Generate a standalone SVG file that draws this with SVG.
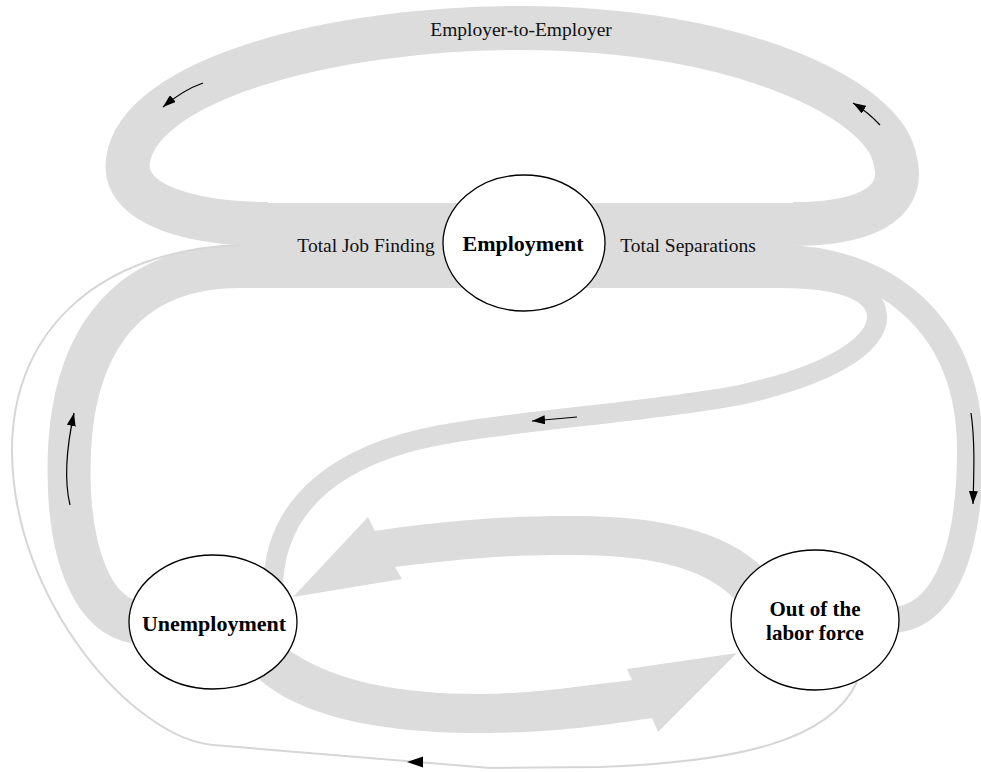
<svg xmlns="http://www.w3.org/2000/svg" width="981" height="772" viewBox="0 0 981 772">
<style>
.band{fill:none;stroke:#dcdcdc;stroke-linecap:butt}
.bandf{fill:#dcdcdc;stroke:none}
.thin{fill:none;stroke:#d6d6d6;stroke-width:2}
.arr{fill:none;stroke:#000;stroke-width:1.2}
.node{fill:#fff;stroke:#000;stroke-width:1.3}
.lbl{font-family:"Liberation Serif","Times New Roman",serif;font-size:19.5px;fill:#111}
.nlbl{font-family:"Liberation Serif","Times New Roman",serif;font-size:22px;font-weight:bold;fill:#000}
.nlbl2{font-family:"Liberation Serif","Times New Roman",serif;font-size:21px;font-weight:bold;fill:#000}
</style>
<defs>
<marker id="ah" viewBox="0 0 13 9" refX="13" refY="4.5" markerWidth="13" markerHeight="9" markerUnits="userSpaceOnUse" orient="auto">
<path d="M0,0 L13,4.5 L0,9 z" fill="#000"/>
</marker>
</defs>
<g id="connectors">
<rect class="bandf" x="268" y="203" width="525" height="85"/>
<path class="band" stroke-width="44" d="M 793,224 C 880,224 905,195 895,160 C 885,100 740,28 520,28 C 330,28 140,80 128,160 C 121,208 200,224 268,224"/>
<path class="band" stroke-width="43" d="M 268,266.5 L 240,266.5 C 120,266.5 69,350 69,470 C 69,560 95,615 135,622"/>
<path class="band" stroke-width="26" d="M 780,258 C 880,258 970,320 970,450 C 970,560 940,620 890,620"/>
<path class="band" stroke-width="20" d="M 780,278 C 850,278 877,295 877,317 C 877,345 830,375 740,395 C 650,412 520,420 440,435 C 344,453 273,500 273,590"/>
<path class="bandf" d="M 293,597 L 368,517 L 375,531 C 430,523 500,515 580,516 C 660,517 730,530 770,575 L 740,605 C 715,575 670,556 580,555 C 510,554 450,560 395,567 L 402,579 Z"/>
<path class="bandf" d="M 737,653 L 627,669 L 632,680 C 580,686 530,694 480,694 C 400,694 330,682 282,645 L 248,668 C 280,705 350,733 480,733 C 560,733 610,724 652,718 L 658,732 Z"/>
<path class="thin" d="M 857,682 C 830,740 740,762 600,767 L 490,768 L 213,745 C 133,738 12,600 12,450 C 12,330 100,250 240,245"/>
<polygon points="407,762 423,756.5 423,767.5" fill="#000"/>
<path class="arr" marker-end="url(#ah)" d="M 203,83 Q 183,90 163,107"/>
<path class="arr" marker-end="url(#ah)" d="M 880,125 Q 868,112 853,103"/>
<path class="arr" marker-end="url(#ah)" d="M 70,505 C 64,480 66,450 74,413"/>
<path class="arr" marker-end="url(#ah)" d="M 577,417 L 532,421"/>
<path class="arr" marker-end="url(#ah)" d="M 971,413 C 975,440 974,470 973,504"/>
</g>
<g id="labels">
<text class="lbl" x="521" y="36" text-anchor="middle">Employer-to-Employer</text>
<text class="lbl" x="366" y="252" text-anchor="middle">Total Job Finding</text>
<text class="lbl" x="688" y="252" text-anchor="middle">Total Separations</text>
</g>
<g id="employment">
<ellipse class="node" cx="524" cy="243" rx="81" ry="68"/>
<text class="nlbl" x="523" y="251" text-anchor="middle">Employment</text>
</g>
<g id="unemployment">
<ellipse class="node" cx="213" cy="622" rx="84" ry="67"/>
<text class="nlbl" x="214" y="631" text-anchor="middle">Unemployment</text>
</g>
<g id="nilf">
<ellipse class="node" cx="815" cy="620" rx="84" ry="70"/>
<text class="nlbl2" x="815" y="615.5" text-anchor="middle">Out of the</text>
<text class="nlbl2" x="815" y="639.5" text-anchor="middle">labor force</text>
</g>
</svg>
